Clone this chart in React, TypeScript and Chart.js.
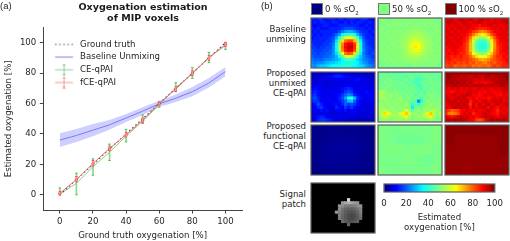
import React, { useEffect, useRef } from "react";
import { Chart, registerables } from "chart.js";

Chart.register(...registerables);

const FONT = "'DejaVu Sans'";
const FS = 8.6;
const TEXT = "#262626";
const AXIS = "#444444";

// ---------- panel (a) data ----------
const truthX = [0, 10, 20, 30, 40, 50, 60, 70, 80, 90, 100];
const truthY = [0, 10, 20, 30, 40, 50, 60, 70, 80, 90, 100];
const baseMean = [36, 39, 42.5, 46, 50.5, 55, 59.8, 63.5, 67.8, 73.5, 81];
const baseHigh = [40.5, 43.3, 46.5, 49.2, 53.2, 57.5, 61.8, 66, 70.8, 76.8, 84];
const baseLow = [31.5, 34.7, 38.5, 42.8, 47.8, 52.5, 57.8, 61, 64.8, 70.5, 78];
const ceMean = [0.5, 7.5, 18.5, 28, 38.5, 48.5, 59, 70.5, 79.5, 90.5, 98];
const ceHigh = [4.5, 14.2, 23.6, 33.3, 43, 52.5, 61.3, 73.7, 83.6, 93.7, 100];
const ceLow = [0, 0, 12.9, 22.5, 34.8, 47, 57.6, 67.8, 76.6, 86.9, 95.6];
const fceMean = [1, 10, 20.5, 30.5, 39.5, 49, 60, 69.5, 80, 90, 99];
const fceHigh = [2.2, 12, 22.5, 32, 41, 50.5, 61, 71, 81.5, 91.5, 100.3];
const fceLow = [-0.2, 8.5, 19, 29, 38, 47.5, 59, 68, 78.5, 88.5, 97.5];
const axisTicksX = [0, 20, 40, 60, 80, 100];
const axisTicksY = [0, 20, 40, 60, 80, 100];
const legendNames = ["Ground truth", "Baseline Unmixing", "CE-qPAI", "fCE-qPAI"];
const barTicks = [0, 20, 40, 60, 80, 100];

// ---------- panel (b) data: oxygenation per pixel ----------
const base0 = [
  [14,12,14,16,12,12,14,14,12,14,14,12,14,14,14,12,14,16,14,12,10],
  [12,14,12,14,14,12,12,14,14,12,12,14,12,14,12,14,14,12,12,14,12],
  [12,10,12,12,14,14,12,12,12,14,14,14,14,14,14,14,12,12,14,12,12],
  [14,12,14,12,12,12,14,14,14,14,16,18,18,18,16,14,14,14,12,14,12],
  [12,14,12,14,14,14,14,14,14,18,22,26,28,28,24,20,16,14,14,12,14],
  [14,12,14,12,14,14,14,16,20,26,36,40,42,42,38,28,20,16,14,14,12],
  [12,14,14,14,14,14,16,18,26,38,50,60,62,60,54,42,28,18,14,14,14],
  [14,14,14,14,14,16,16,20,32,48,68,78,82,82,72,52,34,20,16,14,14],
  [16,14,14,14,16,16,18,22,36,54,76,88,91,91,84,60,38,22,16,14,14],
  [16,16,14,16,16,18,18,24,36,56,78,89,93,93,85,62,38,22,18,16,14],
  [18,16,16,16,18,18,20,24,36,54,76,88,92,91,82,60,38,24,18,16,16],
  [18,18,16,18,18,20,20,24,32,46,64,78,82,80,68,50,34,22,18,16,18],
  [20,18,18,18,20,20,22,24,28,36,46,56,60,58,50,40,30,24,20,18,16],
  [22,20,20,20,22,24,24,26,28,30,36,42,44,42,38,32,28,24,22,20,18],
  [24,22,24,24,26,28,30,30,32,34,36,38,38,38,36,34,30,26,24,20,20],
  [26,24,28,30,30,32,34,36,36,38,38,40,40,38,36,34,32,30,26,24,22],
];
const base50 = [
  [50,52,50,48,50,52,50,50,52,50,50,52,50,52,50,50,52,50,50,48,50],
  [48,50,52,50,50,50,52,50,50,50,52,50,50,50,52,50,50,52,50,50,48],
  [50,50,48,52,50,52,50,52,50,52,50,50,52,50,50,52,50,50,50,52,50],
  [50,52,50,50,52,50,50,50,52,50,52,52,52,52,50,50,52,50,52,50,50],
  [52,50,50,52,50,52,50,52,50,52,52,53,53,53,52,52,50,50,50,52,50],
  [50,50,52,50,50,50,52,50,52,52,54,55,55,55,54,52,52,50,52,50,50],
  [50,52,50,52,50,52,50,52,52,54,55,57,58,57,55,54,52,52,50,50,52],
  [52,50,50,50,52,50,52,52,53,55,57,59,60,59,57,55,53,52,50,52,50],
  [50,50,52,50,52,52,50,52,53,55,58,61,63,63,59,55,53,52,52,50,50],
  [52,50,50,52,50,50,52,52,53,55,59,63,67,65,60,56,53,52,50,52,50],
  [50,52,50,50,52,52,50,52,53,55,57,60,63,62,58,55,53,52,52,50,52],
  [50,50,52,50,50,52,52,50,52,54,56,58,59,58,56,54,52,52,50,50,50],
  [52,50,50,52,50,50,50,52,52,53,54,55,55,55,54,53,52,50,52,50,52],
  [50,50,52,50,52,50,52,50,52,52,52,53,53,53,52,52,52,52,50,52,50],
  [48,50,50,50,50,52,50,50,50,52,50,52,52,50,52,50,50,50,52,50,50],
  [50,48,50,48,50,50,48,50,50,50,48,50,50,50,50,48,50,50,50,48,50],
];
const base100 = [
  [94,92,94,90,92,94,92,92,94,92,90,92,94,92,92,90,92,90,92,94,92],
  [92,94,92,92,90,92,94,92,90,92,92,94,92,90,92,92,94,92,92,92,94],
  [90,92,90,92,92,90,92,92,92,90,90,88,90,90,92,92,90,92,90,92,92],
  [92,90,92,90,92,92,90,92,90,90,88,86,86,86,88,90,92,90,92,90,92],
  [92,92,90,92,90,90,92,90,88,84,82,78,76,78,82,86,90,90,90,92,90],
  [90,92,92,90,92,90,90,88,84,78,72,68,66,68,74,82,86,90,92,90,92],
  [92,90,90,92,90,92,88,86,78,68,58,54,52,56,62,72,82,88,90,92,90],
  [90,92,90,90,92,90,88,84,74,60,48,44,42,44,52,66,78,86,90,90,92],
  [92,90,92,90,90,90,86,82,72,56,44,40,39,40,48,62,76,86,88,90,90],
  [88,90,90,92,90,88,86,82,72,56,44,40,39,40,48,62,76,84,88,90,92],
  [90,88,90,90,88,88,86,82,72,58,48,42,42,44,52,64,78,84,88,90,90],
  [88,90,88,90,88,86,86,82,76,64,56,52,50,52,60,70,80,84,88,88,90],
  [88,88,86,88,86,88,84,84,80,74,68,64,62,64,70,76,82,86,86,90,88],
  [86,88,86,84,86,86,84,84,82,80,78,74,72,74,76,80,82,84,86,88,90],
  [84,86,84,86,82,84,82,84,80,82,78,80,78,76,80,82,80,84,84,86,88],
  [82,84,84,80,82,82,80,82,82,78,80,78,80,80,78,82,84,82,84,86,86],
];
const mixed0 = [
  [6,5,6,5,6,6,5,6,7,8,8,7,6,6,5,6,5,6,5,5,6],
  [6,6,7,8,8,10,10,12,14,14,12,10,9,8,8,7,8,7,7,6,6],
  [7,6,8,8,9,8,8,10,10,11,10,9,10,10,11,12,10,9,8,7,8],
  [8,7,8,9,8,7,9,8,8,8,8,9,8,9,10,10,9,8,9,8,7],
  [8,9,10,9,8,8,7,8,9,8,9,10,11,10,9,8,9,10,9,8,8],
  [10,12,11,10,9,10,9,8,9,10,12,13,15,13,10,9,10,10,9,8,9],
  [12,14,12,10,9,10,11,10,9,10,12,16,18,16,11,10,9,10,12,10,9],
  [14,16,12,10,10,9,8,10,11,12,16,20,24,22,14,12,10,9,10,11,10],
  [16,18,14,10,9,10,10,9,11,14,18,26,38,42,28,15,12,10,9,10,9],
  [14,16,15,11,10,9,11,10,9,12,16,20,28,30,20,13,10,9,10,8,9],
  [10,12,18,14,11,10,9,11,12,10,14,20,16,18,16,12,10,9,8,9,8],
  [10,10,14,16,12,9,8,9,14,12,10,16,12,16,12,10,9,8,9,8,7],
  [8,10,9,12,10,12,9,8,10,11,10,12,9,10,10,8,8,9,8,8,8],
  [7,8,9,8,10,9,8,7,9,10,8,8,9,10,9,8,7,8,7,8,7],
  [8,9,12,14,13,10,9,8,8,10,9,8,7,8,8,7,8,7,8,7,6],
  [6,8,14,16,16,14,13,10,9,8,7,8,7,6,7,6,5,6,6,6,5],
];
const mixed50 = [
  [46,48,47,46,48,47,46,45,47,48,47,46,48,47,46,48,47,48,46,47,46],
  [48,47,49,48,46,48,47,48,46,45,47,48,46,45,47,48,49,47,48,47,48],
  [47,49,48,50,49,47,48,46,48,50,46,47,44,42,44,46,48,49,47,48,47],
  [49,47,50,48,50,49,47,49,47,46,48,46,43,44,46,48,47,50,49,47,48],
  [48,50,48,51,49,48,50,47,49,48,46,48,46,42,45,50,48,47,49,48,50],
  [50,48,51,50,47,49,48,50,46,49,47,50,48,46,42,49,46,50,48,49,47],
  [54,56,53,50,49,51,50,48,49,47,50,46,49,45,48,44,50,48,50,47,49],
  [56,54,52,51,53,50,52,50,48,51,48,50,44,47,49,46,50,52,49,50,48],
  [53,55,54,50,52,49,51,53,50,49,51,46,49,47,44,50,48,51,50,48,50],
  [52,50,53,52,50,54,50,52,51,50,48,50,44,24,38,48,52,50,53,49,51],
  [54,52,50,54,52,50,53,50,52,54,50,40,46,40,48,51,50,54,50,52,50],
  [55,53,52,50,53,52,50,54,52,50,52,34,48,50,47,52,53,50,52,50,53],
  [56,54,58,55,52,54,52,50,56,60,56,46,50,52,50,54,52,56,58,53,52],
  [54,58,68,64,56,53,54,60,66,70,60,52,54,50,52,56,66,70,58,52,54],
  [52,56,58,55,54,56,52,56,58,62,54,50,52,54,52,56,58,62,54,50,52],
  [50,52,54,52,50,52,54,52,50,54,52,50,52,50,54,50,52,54,52,50,50],
];
const mixed100 = [
  [98,97,98,98,97,98,97,98,98,97,98,97,98,97,98,98,97,98,97,98,98],
  [97,98,96,95,96,94,95,94,93,94,95,94,93,95,96,94,95,96,96,97,98],
  [96,97,95,96,94,95,94,95,94,93,92,93,92,94,93,94,95,94,96,95,97],
  [97,96,97,95,96,94,96,93,95,92,90,91,90,90,91,92,94,96,95,96,96],
  [95,94,95,96,94,95,94,95,93,94,95,94,95,93,94,95,93,94,95,96,94],
  [92,90,92,91,93,90,92,91,92,90,91,92,90,92,91,90,92,91,92,93,94],
  [90,90,88,90,92,90,90,92,94,91,92,89,90,89,92,90,89,90,90,92,92],
  [92,90,92,94,90,92,92,94,92,90,90,88,90,92,90,92,90,89,88,92,90],
  [94,92,90,92,94,92,94,90,89,92,88,90,89,90,88,90,92,90,92,90,92],
  [92,94,92,94,92,94,92,94,87,90,92,89,92,94,90,92,94,92,94,90,92],
  [90,92,94,92,94,92,94,92,85,92,89,94,90,92,94,90,92,94,90,92,94],
  [92,90,92,94,92,94,92,94,88,94,90,92,94,92,89,94,90,88,92,90,92],
  [87,84,80,82,84,89,90,92,90,89,92,89,90,92,94,92,89,86,90,92,90],
  [86,78,76,78,82,89,92,90,92,86,89,90,92,94,92,90,89,87,92,90,92],
  [92,89,88,90,92,94,92,94,90,92,88,90,92,94,92,94,92,90,92,94,92],
  [94,96,94,96,94,96,94,92,90,89,84,82,84,90,94,96,94,96,94,96,94],
];
const func0 = [
  [0.5,1,1,1,1,1,0.5],
  [1,1.5,2,2,2,1.5,1],
  [1,2,2.5,2.5,2.5,2,1],
  [1,2,2,2,2,1.5,1],
  [0.5,1,1.5,1.5,1.5,1,0.5],
];
const func50 = [
  [50,49,49,49,49,49,50],
  [50,49,48,48,48,49,50],
  [49,50,50,49,50,50,49],
  [49,49,49,50,49,48,49],
  [50,49,49,49,49,49,50],
];
const func100 = [
  [99,99,99,99,99,99,99],
  [99,98,98,98,98,98,99],
  [98,98,98,98,98,98,99],
  [98,98,98,98,98,98,98],
  [98,98,97,98,98,98,98],
];
const signal = [
  [0,0,0,0,0,0,0,0,0,0,0,0,0,0,0,0,0,0,0,0,0],
  [0,0,0,0,0,0,0,0,0,0,0,0,0,0,0,0,0,0,0,0,0],
  [0,0,0,0,0,0,0,0,0,0,0,0,0,0,0,0,0,0,0,0,0],
  [0,0,0,0,0,0,0,0,0,0,0,0,0,0,0,0,0,0,0,0,0],
  [0,0,0,0,0,0,0,0,0,0,0,0,0,0,0,0,0,0,0,0,0],
  [0,0,0,0,0,0,0,0,0,0,0,0,85,0,0,0,0,0,0,0,0],
  [0,0,0,0,0,0,0,0,0,0,60,66,70,66,60,58,0,0,0,0,0],
  [0,0,0,0,0,0,0,0,0,58,55,50,48,48,50,55,58,0,0,0,0],
  [0,0,0,0,0,0,0,0,0,55,45,40,38,38,40,45,52,0,0,0,0],
  [0,0,0,0,0,0,0,0,60,50,42,36,32,32,34,40,50,0,0,0,0],
  [0,0,0,0,0,0,0,0,0,50,40,34,30,28,30,36,46,0,0,0,0],
  [0,0,0,0,0,0,0,0,0,48,40,34,30,28,30,36,42,0,0,0,0],
  [0,0,0,0,0,0,0,0,0,0,42,36,32,32,34,38,0,0,0,0,0],
  [0,0,0,0,0,0,0,0,0,0,0,0,40,0,0,0,0,0,0,0,0],
  [0,0,0,0,0,0,0,0,0,0,0,0,0,0,0,0,0,0,0,0,0],
  [0,0,0,0,0,0,0,0,0,0,0,0,0,0,0,0,0,0,0,0,0],
];

// jet colour map anchors: position, r, g, b
const jetStops = [
  [0, 0, 0, 127],
  [11, 0, 0, 255],
  [35, 0, 255, 255],
  [50, 127, 255, 127],
  [65, 255, 255, 0],
  [89, 255, 0, 0],
  [100, 127, 0, 0],
];
const css = (s: number[]) => `rgb(${s[1]},${s[2]},${s[3]})`;
function jet(v: number) {
  for (let i = 1; i < jetStops.length; i++) {
    const a = jetStops[i - 1], b = jetStops[i];
    if (v <= b[0]) {
      const t = (v - a[0]) / (b[0] - a[0]);
      return `rgb(${Math.round(a[1] + t * (b[1] - a[1]))},${Math.round(a[2] + t * (b[2] - a[2]))},${Math.round(a[3] + t * (b[3] - a[3]))})`;
    }
  }
  return css(jetStops[jetStops.length - 1]);
}
const gray = (v: number) => {
  const c = Math.round(v * 2.55);
  return `rgb(${c},${c},${c})`;
};

const framePlugin = {
  id: "panelFrame",
  afterDraw(chart: any) {
    const { left, top, width, height } = chart.chartArea;
    const ctx = chart.ctx;
    ctx.save();
    ctx.strokeStyle = "#5c5c5c";
    ctx.lineWidth = 1.2;
    ctx.strokeRect(left, top, width, height);
    ctx.restore();
  },
};

function Heat({ data, left, top, w, h, map }: any) {
  const ref = useRef<HTMLCanvasElement>(null);
  useEffect(() => {
    const rows = data.length, cols = data[0].length;
    const points: any[] = [];
    const colors: string[] = [];
    data.forEach((row: number[], r: number) =>
      row.forEach((v: number, c: number) => {
        points.push({ x: c + 0.5, y: r + 0.5 });
        colors.push(map(v));
      })
    );
    // squares overlap a little so antialiased edges leave no seams
    const side = Math.max(w / cols, h / rows) + 1;
    const chart = new Chart(ref.current as any, {
      type: "scatter",
      data: {
        datasets: [
          {
            data: points,
            backgroundColor: colors,
            pointStyle: "rect",
            pointRadius: side / Math.SQRT2,
            pointBorderWidth: 0,
            borderWidth: 0,
          } as any,
        ],
      },
      options: {
        animation: false,
        responsive: false,
        events: [],
        layout: { padding: 2, autoPadding: false },
        plugins: { legend: { display: false }, tooltip: { enabled: false } },
        scales: {
          x: { type: "linear", min: 0, max: cols, display: false },
          y: { type: "linear", min: 0, max: rows, reverse: true, display: false },
        },
      },
      plugins: [framePlugin],
    });
    return () => chart.destroy();
  }, []);
  return (
    <canvas
      ref={ref}
      width={w + 4}
      height={h + 4}
      style={{ position: "absolute", left: left - 2, top: top - 2, width: w + 4, height: h + 4 }}
    />
  );
}

function legendIcon(kind: string) {
  const c = document.createElement("canvas");
  c.width = 28;
  c.height = 12;
  const g = c.getContext("2d") as CanvasRenderingContext2D;
  const y = 6;
  const x0 = 7.5, x1 = 25.5, xm = 16.5;
  if (kind === "truth") {
    g.strokeStyle = "#444444";
    g.lineWidth = 1.2;
    g.setLineDash([1.5, 2.6]);
    g.beginPath(); g.moveTo(x0, y); g.lineTo(x1, y); g.stroke();
  } else if (kind === "base") {
    g.strokeStyle = "#7a7af0";
    g.lineWidth = 1;
    g.beginPath(); g.moveTo(x0, y); g.lineTo(x1, y); g.stroke();
  } else {
    const col = kind === "ce" ? "#8ed38e" : "#f29a9a";
    const cap = kind === "ce" ? "#5cb85c" : "#ee5555";
    g.strokeStyle = col;
    g.lineWidth = 1;
    g.beginPath(); g.moveTo(x0, y); g.lineTo(x1, y); g.moveTo(xm, 1); g.lineTo(xm, 11); g.stroke();
    g.strokeStyle = cap;
    g.beginPath(); g.moveTo(xm - 1.2, 1); g.lineTo(xm + 1.2, 1); g.moveTo(xm - 1.2, 11); g.lineTo(xm + 1.2, 11); g.stroke();
  }
  return c;
}

function errorSets(low: number[], high: number[], bar: string, cap: string) {
  const common = { pointStyle: "line", pointRadius: 1.2, pointBorderWidth: 1, pointBorderColor: cap, showLine: false, type: "line" };
  return [
    { ...common, data: truthX.map((x, i) => ({ x, y: high[i] })) },
    { ...common, data: truthX.map((x, i) => ({ x, y: low[i] })) },
    {
      type: "bar",
      data: truthX.map((x, i) => ({ x, y: [low[i], high[i]] })),
      backgroundColor: bar,
      barThickness: 1,
      grouped: false,
    },
  ];
}

function LinePanel() {
  const ref = useRef<HTMLCanvasElement>(null);
  useEffect(() => {
    const xy = (ys: number[]) => truthX.map((x, i) => ({ x, y: ys[i] }));
    const icons = ["truth", "base", "ce", "fce"].map(legendIcon);
    const chart = new Chart(ref.current as any, {
      type: "line",
      data: {
        datasets: [
          ...errorSets(fceLow, fceHigh, "#f29a9a", "#ee5555"),
          { data: xy(fceMean), borderColor: "#ee7070", borderWidth: 1, pointRadius: 1.5, pointBackgroundColor: "#ee3333", pointBorderWidth: 0 },
          { data: xy(truthY), borderColor: "#444444", borderWidth: 1.1, borderDash: [1.5, 2.6], pointRadius: 0 },
          ...errorSets(ceLow, ceHigh, "#8ed38e", "#5cb85c"),
          { data: xy(ceMean), borderColor: "#88d088", borderWidth: 1, pointRadius: 0 },
          { data: xy(baseMean), borderColor: "#7a7af0", borderWidth: 1, pointRadius: 0 },
          { data: xy(baseHigh), borderWidth: 0, pointRadius: 0, fill: "+1", backgroundColor: "rgba(110,110,255,0.33)" },
          { data: xy(baseLow), borderWidth: 0, pointRadius: 0 },
        ] as any,
      },
      options: {
        animation: false,
        responsive: false,
        events: [],
        layout: { padding: { top: 27.5, right: 13, left: 0, bottom: 0 }, autoPadding: false },
        plugins: {
          tooltip: { enabled: false },
          legend: {
            position: "chartArea",
            align: "start",
            title: { display: true, text: " ", font: { family: FONT, size: 6 }, padding: { top: 28.8, bottom: 0 } },
            labels: {
              usePointStyle: true,
              pointStyleWidth: 28.3,
              padding: 4.1,
              color: TEXT,
              font: { family: FONT, size: FS },
              generateLabels: () =>
                legendNames.map((text, i) => ({
                  text,
                  pointStyle: icons[i],
                  fontColor: TEXT,
                  lineWidth: 0,
                  hidden: false,
                })),
            },
          } as any,
        },
        scales: {
          x: {
            type: "linear",
            min: -10,
            max: 110,
            offset: false,
            afterFit: (s: any) => { s.height = 31; },
            afterBuildTicks: (s: any) => { s.ticks = axisTicksX.map((value) => ({ value })); },
            ticks: { color: TEXT, font: { family: FONT, size: FS }, padding: 3, maxRotation: 0, autoSkip: false },
            grid: { offset: false, drawOnChartArea: false, tickLength: 3.5, tickColor: AXIS, tickWidth: 1 },
            border: { color: AXIS, width: 1 },
            title: { display: true, text: "Ground truth oxygenation [%]", color: TEXT, font: { family: FONT, size: FS }, padding: { top: 0, bottom: 0 } },
          },
          y: {
            type: "linear",
            min: -10,
            max: 110,
            afterFit: (s: any) => { s.width = 43.3; },
            afterBuildTicks: (s: any) => { s.ticks = axisTicksY.map((value) => ({ value })); },
            ticks: { color: TEXT, font: { family: FONT, size: FS }, padding: 3.5, autoSkip: false },
            grid: { drawOnChartArea: false, tickLength: 3.5, tickColor: AXIS, tickWidth: 1 },
            border: { color: AXIS, width: 1 },
            title: { display: true, text: "Estimated oxygenation [%]", color: TEXT, font: { family: FONT, size: FS }, padding: { top: 3.3, bottom: 0 } },
          },
        },
      },
    });
    return () => chart.destroy();
  }, []);
  return <canvas ref={ref} width={255} height={241} style={{ position: "absolute", left: 0, top: 0, width: 255, height: 241 }} />;
}

function ColorBar() {
  const ref = useRef<HTMLCanvasElement>(null);
  useEffect(() => {
    const chart = new Chart(ref.current as any, {
      type: "bar",
      data: {
        labels: ["sO2"],
        datasets: [
          {
            data: [[0, 100]],
            categoryPercentage: 1,
            barPercentage: 1,
            backgroundColor: (c: any) => {
              const area = c.chart.chartArea;
              if (!area) return "#000";
              const g = c.chart.ctx.createLinearGradient(area.left, 0, area.right, 0);
              jetStops.forEach((s) => g.addColorStop(s[0] / 100, css(s)));
              return g;
            },
          } as any,
        ],
      },
      options: {
        indexAxis: "y",
        animation: false,
        responsive: false,
        events: [],
        layout: { padding: { top: 6, left: 12, right: 8, bottom: 0 }, autoPadding: false },
        plugins: { legend: { display: false }, tooltip: { enabled: false } },
        scales: {
          y: { display: false },
          x: {
            type: "linear",
            min: 0,
            max: 100,
            afterFit: (s: any) => { s.height = 49; },
            afterBuildTicks: (s: any) => { s.ticks = barTicks.map((value) => ({ value })); },
            ticks: { color: TEXT, font: { family: FONT, size: FS }, padding: 7, maxRotation: 0, autoSkip: false },
            grid: { drawOnChartArea: false, drawTicks: false },
            border: { display: false },
            title: {
              display: true,
              text: ["Estimated", "oxygenation [%]"],
              color: TEXT,
              font: { family: FONT, size: FS, lineHeight: 1.12 },
              padding: { top: 0, bottom: 8.9 },
            },
          },
        },
      },
      plugins: [framePlugin],
    });
    return () => chart.destroy();
  }, []);
  return <canvas ref={ref} width={138} height={63} style={{ position: "absolute", left: 372, top: 178, width: 138, height: 63 }} />;
}

const textStyle: any = {
  position: "absolute",
  fontFamily: FONT,
  fontSize: FS,
  lineHeight: "10px",
  color: TEXT,
  whiteSpace: "pre",
};

const RowLabel = ({ lines, top }: { lines: string[]; top: number }) => (
  <div style={{ ...textStyle, right: 510 - 306, top, textAlign: "right" }}>
    {lines.map((l) => (
      <div key={l}>{l}</div>
    ))}
  </div>
);

const Swatch = ({ left, color, label, textLeft }: any) => (
  <>
    <div style={{ position: "absolute", left, top: 3, width: 9.5, height: 9.5, background: color, border: "1px solid #777" }} />
    <div style={{ ...textStyle, left: textLeft, top: 4 }}>
      {label}
      <sub style={{ fontSize: 5.5, lineHeight: 0 }}>2</sub>
    </div>
  </>
);

const panelX = [311, 378, 445];
const panelW = 64;
const panelH = 50;
const panelY = [18, 72, 125];

export default function App() {
  return (
    <div style={{ position: "absolute", left: 0, top: 0, width: 510, height: 241, overflow: "hidden", background: "#fff", filter: "blur(0.35px)" }}>
      <LinePanel />
      <div style={{ ...textStyle, left: 0, top: 1, fontFamily: "'Liberation Sans'", fontSize: 9.5 }}>(a)</div>
      <div style={{ ...textStyle, left: 261, top: 1, fontFamily: "'Liberation Sans'", fontSize: 9.5 }}>(b)</div>
      <div style={{ ...textStyle, left: 43, width: 200, top: 0.5, textAlign: "center", fontWeight: "bold", fontSize: 9.55, lineHeight: "11.4px", color: "#1a1a1a" }}>
        <div>Oxygenation estimation</div>
        <div>of MIP voxels</div>
      </div>

      <Swatch left={311} color="#00007f" label="0 % sO" textLeft={325} />
      <Swatch left={378} color="#7fff7f" label="50 % sO" textLeft={392} />
      <Swatch left={445} color="#7f0000" label="100 % sO" textLeft={458.5} />

      <RowLabel lines={["Baseline", "unmixing"]} top={24} />
      <RowLabel lines={["Proposed", "unmixed", "CE-qPAI"]} top={67.5} />
      <RowLabel lines={["Proposed", "functional", "CE-qPAI"]} top={121} />
      <RowLabel lines={["Signal", "patch"]} top={189} />

      <Heat data={base0} map={jet} left={panelX[0]} top={panelY[0]} w={panelW} h={panelH} />
      <Heat data={base50} map={jet} left={panelX[1]} top={panelY[0]} w={panelW} h={panelH} />
      <Heat data={base100} map={jet} left={panelX[2]} top={panelY[0]} w={panelW} h={panelH} />
      <Heat data={mixed0} map={jet} left={panelX[0]} top={panelY[1]} w={panelW} h={panelH} />
      <Heat data={mixed50} map={jet} left={panelX[1]} top={panelY[1]} w={panelW} h={panelH} />
      <Heat data={mixed100} map={jet} left={panelX[2]} top={panelY[1]} w={panelW} h={panelH} />
      <Heat data={func0} map={jet} left={panelX[0]} top={panelY[2]} w={panelW} h={panelH} />
      <Heat data={func50} map={jet} left={panelX[1]} top={panelY[2]} w={panelW} h={panelH} />
      <Heat data={func100} map={jet} left={panelX[2]} top={panelY[2]} w={panelW} h={panelH} />
      <Heat data={signal} map={gray} left={panelX[0]} top={183} w={panelW} h={panelH} />

      <ColorBar />
    </div>
  );
}
